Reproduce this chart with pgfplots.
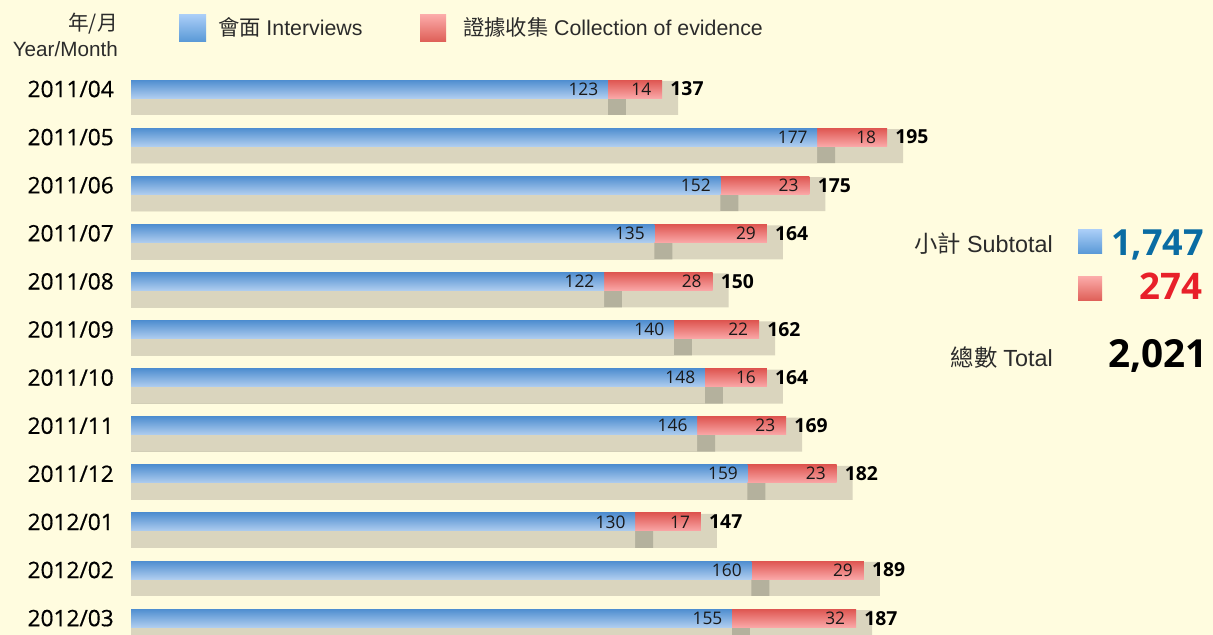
\documentclass[border=0pt]{standalone}
\usepackage{fontspec}
\setmainfont{Open Sans}
\newfontfamily\cjk{Noto Sans CJK TC}
\newfontfamily\lat{Liberation Sans}
\newfontfamily\osm{Open Sans}[FakeBold=0.5]
\usepackage{pgfplots}
\usepackage{pgfplotstable}
\pgfplotsset{compat=1.18}

\definecolor{bg}{HTML}{FFFCDF}
\definecolor{beige}{HTML}{DAD5BE}
\definecolor{graysq}{HTML}{B4B19D}
\definecolor{blueTop}{HTML}{4F8ED0}
\definecolor{blueBot}{HTML}{AFCDEF}
\definecolor{redTop}{HTML}{DE5651}
\definecolor{redBot}{HTML}{FAA7A7}
\definecolor{legBlueTop}{HTML}{A9CDF7}
\definecolor{legBlueBot}{HTML}{5898D6}
\definecolor{legRedTop}{HTML}{FBAAA8}
\definecolor{legRedBot}{HTML}{DE5E56}
\definecolor{numblue}{HTML}{0A6CA3}
\definecolor{numred}{HTML}{E8202A}
\definecolor{txt}{HTML}{2B2B2B}

\pgfplotstableread{
idx label blue red total
0 2011/04 123 14 137
1 2011/05 177 18 195
2 2011/06 152 23 175
3 2011/07 135 29 164
4 2011/08 122 28 150
5 2011/09 140 22 162
6 2011/10 148 16 164
7 2011/11 146 23 169
8 2011/12 159 23 182
9 2012/01 130 17 147
10 2012/02 160 29 189
11 2012/03 155 32 187
}\data

\begin{document}
\begin{tikzpicture}[x=0.75pt,y=0.75pt]
\fill[bg] (0,0) rectangle (1213,635);
\begin{axis}[
  at={(98.25pt,0pt)}, anchor=south west,
  scale only axis, width=814.17pt, height=476.25pt,
  xmin=0, xmax=280, ymin=-1.8503, ymax=11.3514,
  y dir=reverse,
  axis line style={draw=none},
  major tick length=0pt,
  xtick=\empty,
  ytick={0,...,11},
  yticklabels from table={\data}{label},
  yticklabel style={font=\osm\fontsize{17}{20}\selectfont, inner sep=0pt, xshift=-12.75pt, text=black},
  /pgf/number format/assume math mode=true,
]
\addplot[xbar, bar shift=0pt, bar width=25.5pt, draw=none, fill=beige]
  table[x expr=\thisrow{total}+4.13, y expr=\thisrow{idx}+0.187] {\data};
\addplot[xbar, bar shift=0pt, bar width=25.5pt, draw=none, fill=graysq]
  table[x expr=\thisrow{blue}+4.64, y expr=\thisrow{idx}+0.187] {\data};
\addplot[xbar, bar shift=0pt, bar width=25.5pt, draw=none, fill=beige]
  table[x=blue, y expr=\thisrow{idx}+0.187] {\data};
\pgfplotsinvokeforeach{0,...,11}{
\addplot[xbar, bar shift=0pt, bar width=13.5pt, draw=none, top color=redTop, bottom color=redBot,
  y filter/.expression={abs(y-#1)<0.1 ? y : nan},
  point meta=explicit, nodes near coords,
  nodes near coords style={anchor=east, inner sep=0pt, xshift=-8pt, font=\fontsize{13}{15}\selectfont, text=black!90}]
  table[x=total, y=idx, meta=red] {\data};
\addplot[xbar, bar shift=0pt, bar width=13.5pt, draw=none, top color=blueTop, bottom color=blueBot,
  y filter/.expression={abs(y-#1)<0.1 ? y : nan},
  point meta=explicit, nodes near coords,
  nodes near coords style={anchor=east, inner sep=0pt, xshift=-7pt, font=\fontsize{13}{15}\selectfont, text=black!90}]
  table[x=blue, y=idx, meta=blue] {\data};
}
\addplot[xbar, bar shift=0pt, bar width=0pt, draw=none, fill=none,
  point meta=explicit, nodes near coords,
  nodes near coords style={anchor=west, inner sep=0pt, xshift=6pt, font=\bfseries\fontsize{14.5}{16}\selectfont, text=black}]
  table[x=total, y=idx, meta=total] {\data};
\end{axis}

% header
\node[anchor=base east, text=txt, inner sep=0pt, font=\fontsize{15.5}{18}\selectfont] at (118,604) {\cjk 年/月};
\node[anchor=base east, text=txt, inner sep=0pt, font=\fontsize{15.5}{18}\selectfont] at (118,578) {\lat Year/Month};
\shade[top color=legBlueTop, bottom color=legBlueBot] (179,593) rectangle (206,620);
\node[anchor=base west, text=txt, inner sep=0pt, font=\fontsize{16}{18}\selectfont] at (218,599) {{\cjk 會面} \lat Interviews};
\shade[top color=legRedTop, bottom color=legRedBot] (420,593) rectangle (446,620);
\node[anchor=base west, text=txt, inner sep=0pt, font=\fontsize{16}{18}\selectfont] at (463,599) {{\cjk 證據收集} \lat Collection of evidence};

% summary
\node[anchor=base east, text=txt, inner sep=0pt, font=\fontsize{17.5}{20}\selectfont] at (1053,382) {{\cjk 小計} \lat Subtotal};
\shade[top color=legBlueTop, bottom color=legBlueBot] (1078,381) rectangle (1102,405);
\node[anchor=base east, text=numblue, inner sep=0pt, font=\bfseries\fontsize{27}{32}\selectfont] at (1204,379) {1,747};
\shade[top color=legRedTop, bottom color=legRedBot] (1078,334) rectangle (1102,358);
\node[anchor=base east, text=numred, inner sep=0pt, font=\bfseries\fontsize{27.5}{32}\selectfont] at (1203,335) {274};
\node[anchor=base east, text=txt, inner sep=0pt, font=\fontsize{17.5}{20}\selectfont] at (1053,268) {{\cjk 總數} \lat Total};
\node[anchor=base east, text=black, inner sep=0pt, font=\bfseries\fontsize{29}{32}\selectfont] at (1208,267) {2,021};

\pgfresetboundingbox
\useasboundingbox (0,0) rectangle (1213,635);
\end{tikzpicture}
\end{document}
